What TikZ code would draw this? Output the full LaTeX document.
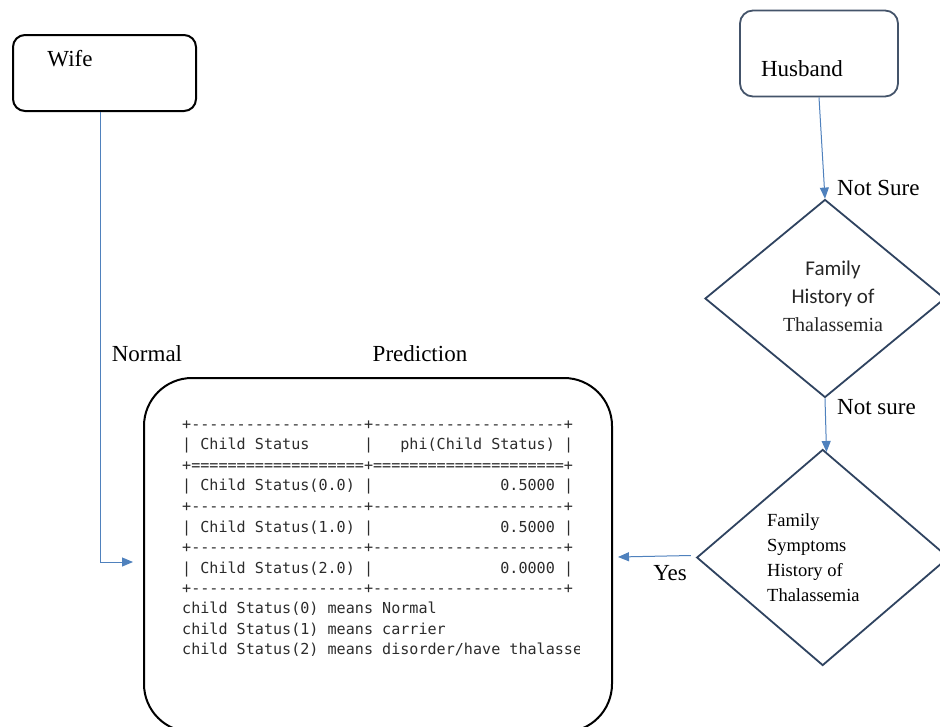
\documentclass[tikz,border=0pt]{standalone}
\usepackage{fontspec}
\setmainfont{Liberation Serif}
\setmonofont{DejaVu Sans Mono}
\newfontfamily\calfont{Carlito}
\usetikzlibrary{shapes.geometric,arrows.meta,calc}
\definecolor{linkblue}{HTML}{4F81BD}
\definecolor{slate}{HTML}{44546A}
\definecolor{navy}{HTML}{2F4360}
\definecolor{codegray}{HTML}{2C2C2C}

\begin{document}
\begin{tikzpicture}[x=1pt,y=-1pt,
  lbl/.style={font=\fontsize{23}{26}\selectfont, inner sep=0pt, text=black},
  arr/.style={draw=linkblue, line width=1pt, -{Triangle[length=11pt,width=9pt]}},
  startbox/.style={draw=black, line width=2pt, rounded corners=12pt, minimum width=183pt, minimum height=76pt, inner sep=0pt},
  hbox/.style={draw=slate, line width=1.8pt, rounded corners=13pt, minimum width=158pt, minimum height=86pt, inner sep=0pt},
  decision/.style={draw=navy, line width=1.8pt, diamond, inner sep=0pt},
  codeline/.style={anchor=base west, inner sep=0pt, text=codegray, font=\ttfamily\fontsize{15.1}{20}\selectfont}
]
\useasboundingbox (0,0) rectangle (940,726);
\fill[white] (0,0) rectangle (940,726);

% start boxes
\node[startbox] (wife) at (104.5,73) {};
\node[lbl] (wifetxt) at (70,59) {Wife};
\node[hbox] (husband) at (819,53.5) {};
\node[lbl] (husbandtxt) at (802,69) {Husband};

% decisions
\node[decision, minimum width=240pt, minimum height=198pt] (d1) at (825,298.5) {};
\node[align=center, inner sep=0pt, text=black!85, font=\fontsize{20}{28}\selectfont] (d1txt) at (833,296)
  {{\calfont\fontsize{21}{28}\selectfont Family}\\{\calfont\fontsize{21}{28}\selectfont History of}\\Thalassemia};
\node[decision, minimum width=252pt, minimum height=216pt] (d2) at (822.7,557.5) {};
\node[align=left, anchor=west, inner sep=0pt, text=black, font=\fontsize{18.5}{25}\selectfont] (d2txt) at (767,558)
  {Family\\Symptoms\\History of\\Thalassemia};

% prediction box
\node[draw=black, line width=2pt, rounded corners=48pt, minimum width=468pt, minimum height=354pt, inner sep=0pt] (pred) at (378,555) {};
\node[lbl] (predtxt) at (420,354) {Prediction};

% table printed inside the prediction box
\node[codeline] (c1) at (182,429.0) {+-------------------+---------------------+};
\node[codeline] (c2) at (182,449.6) {|~Child~Status~~~~~~|~~~phi(Child~Status)~|};
\node[codeline] (c3) at (182,470.2) {+===================+=====================+};
\node[codeline] (c4) at (182,490.8) {|~Child~Status(0.0)~|~~~~~~~~~~~~~~0.5000~|};
\node[codeline] (c5) at (182,511.4) {+-------------------+---------------------+};
\node[codeline] (c6) at (182,532.0) {|~Child~Status(1.0)~|~~~~~~~~~~~~~~0.5000~|};
\node[codeline] (c7) at (182,552.6) {+-------------------+---------------------+};
\node[codeline] (c8) at (182,573.2) {|~Child~Status(2.0)~|~~~~~~~~~~~~~~0.0000~|};
\node[codeline] (c9) at (182,593.8) {+-------------------+---------------------+};
\node[codeline] (c10) at (182,613.4) {child~Status(0)~means~Normal};
\node[codeline] (c11) at (182,634.0) {child~Status(1)~means~carrier};
\begin{scope}
  \clip (180,630) rectangle (579,665);
  \node[codeline] (c12) at (182,654.6) {child~Status(2)~means~disorder/have~thalasse};
\end{scope}

% connectors
\coordinate (wifein) at (133,562);
\draw[arr] ([xshift=-4.5pt]wife.south) |- (wifein);
\node[lbl] (normaltxt) at (147,354) {Normal};

\draw[arr] (husband.south) -- (d1.north);
\node[lbl, anchor=west] (notsure1) at (837,188) {Not Sure};

\coordinate (d2in) at (826.5,452);
\draw[arr] (d1.south) -- (d2in);
\node[lbl, anchor=west] (notsure2) at (837,407) {Not sure};

\coordinate (yesend) at (618,557);
\draw[arr] ([xshift=-5pt,yshift=2pt]d2.west) -- (yesend);
\node[lbl] (yestxt) at (670,573) {Yes};
\end{tikzpicture}
\end{document}
